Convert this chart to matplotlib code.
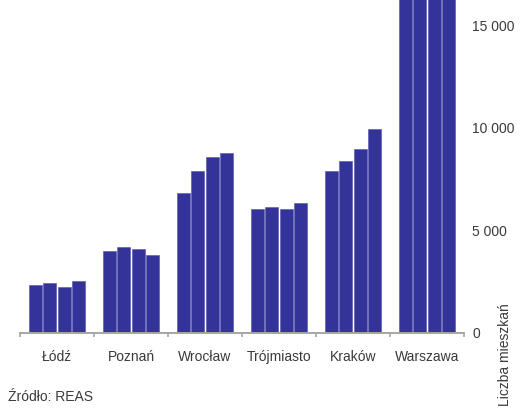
import numpy as np
import matplotlib
matplotlib.use('Agg')
import matplotlib.pyplot as plt

# Dane
miasta = ['Łódź', 'Poznań', 'Wrocław', 'Trójmiasto', 'Kraków', 'Warszawa']
seria1 = [2330, 3990, 6820, 6030, 7890, 17600]
seria2 = [2420, 4180, 7890, 6130, 8380, 18800]
seria3 = [2230, 4080, 8570, 6030, 8960, 19900]
seria4 = [2520, 3800, 8770, 6330, 9940, 21000]
y_ticks = [0, 5000, 10000, 15000]
y_labels = ['0', '5 000', '10 000', '15 000']

plt.rcParams['font.family'] = ['Liberation Sans', 'DejaVu Sans']

fig = plt.figure(figsize=(5.24, 4.09), dpi=100)
ax = fig.add_axes([20 / 524, 1 - 333 / 409, 444 / 524, 333 / 409])

kolor = '#333399'
x = np.arange(len(miasta))
krok = 0.193
szer = 0.176
for i, seria in enumerate([seria1, seria2, seria3, seria4]):
    ax.bar(x + (i - 1.5) * krok, seria, width=szer, color=kolor,
           edgecolor='#5252a8', linewidth=0.4, zorder=2)

ax.set_xlim(-0.5, len(miasta) - 0.5)
ax.set_ylim(0, 16240)

# Osie
for s in ['top', 'left', 'right']:
    ax.spines[s].set_visible(False)
ax.spines['bottom'].set_color('#a6a6a6')
ax.spines['bottom'].set_linewidth(1.4)
ax.spines['bottom'].set_zorder(3)

ax.set_xticks(np.arange(-0.5, len(miasta), 1.0))
ax.set_xticklabels([])
ax.tick_params(axis='x', which='major', length=3, width=1.2, color='#a6a6a6')
ax.set_xticks(x, minor=True)
ax.set_xticklabels(miasta, minor=True)
ax.tick_params(axis='x', which='minor', length=0, pad=12, labelsize=10,
               labelcolor='#3a3a3a')

ax.yaxis.tick_right()
ax.set_yticks(y_ticks)
ax.set_yticklabels(y_labels)
ax.tick_params(axis='y', length=0, pad=6, labelsize=10, labelcolor='#3a3a3a')

fig.text(505 / 524, 1 - 303 / 409, 'Liczba mieszkań', rotation=90,
         ha='center', va='top', fontsize=10, color='#3a3a3a')
fig.text(8 / 524, 1 - 397 / 409, 'Źródło: REAS', ha='left', va='center',
         fontsize=10, color='#3a3a3a')

fig.savefig('out.png', dpi=100)
